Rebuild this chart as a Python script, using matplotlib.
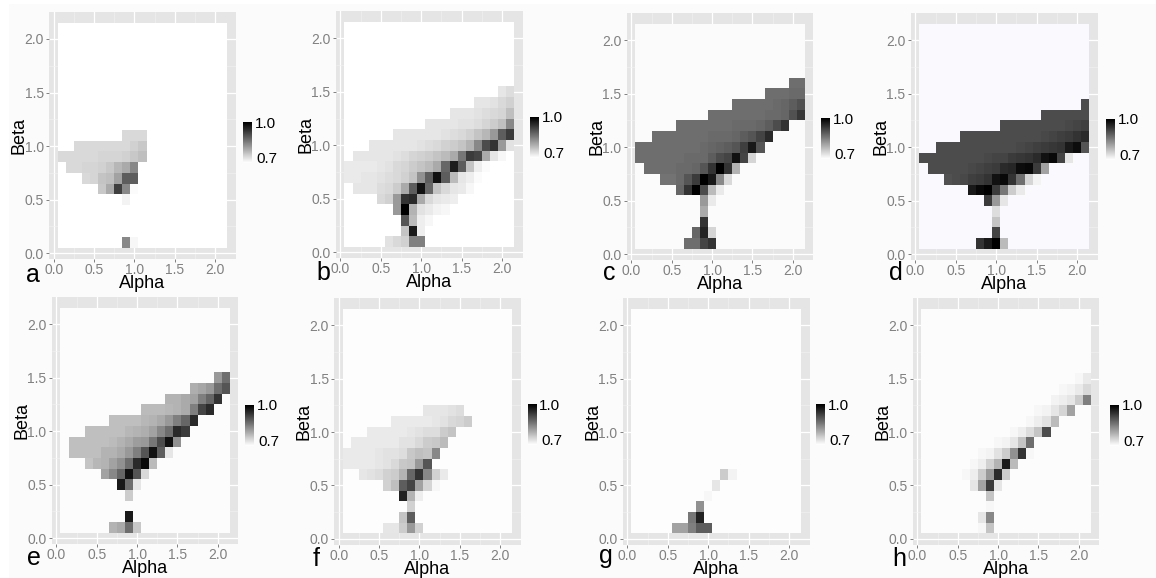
import numpy as np
import matplotlib
matplotlib.use("Agg")
import matplotlib.pyplot as plt
from matplotlib.patches import Rectangle

plt.rcParams['font.family'] = ['Liberation Sans', 'DejaVu Sans']

# each row: beta index -> (first alpha index, values), indices are tenths
panel_a = {
    11: (9, [.745, .745, .745]),
    10: (3, [.745, .745, .745, .745, .745, .745, .745, .755, .765]),
    9: (1, [.745, .745, .745, .745, .745, .75, .75, .75, .755, .765, .775]),
    8: (2, [.745, .745, .75, .75, .755, .765, .785, .80, .84]),
    7: (4, [.745, .75, .77, .775, .81, .89, .89]),
    6: (6, [.765, .80, .925, .84, .705]),
    5: (9, [.715]),
    1: (9, [.84, .71]),
}
panel_b = {
    15: (20, [.73, .74]),
    14: (17, [.73, .73, .735, .745, .755]),
    13: (14, [.73, .73, .73, .735, .74, .745, .75, .775]),
    12: (11, [.73, .73, .73, .73, .735, .735, .74, .75, .76, .775, .84]),
    11: (7, [.73, .73, .73, .73, .73, .73, .735, .74, .745, .755, .77, .785, .82, .89, .93]),
    10: (4, [.73, .73, .73, .73, .73, .73, .735, .74, .745, .755, .76, .77, .79, .84, .91, .94, .82, .735]),
    9: (2, [.73, .73, .73, .73, .73, .735, .74, .75, .755, .76, .77, .78, .80, .86, .93, .92, .80, .73, .71]),
    8: (1, [.725, .725, .725, .725, .73, .735, .745, .75, .76, .77, .78, .80, .88, .965, .89, .77, .72, .705]),
    7: (1, [.725, .725, .73, .73, .735, .74, .745, .755, .77, .83, .89, .98, .89, .78, .73, .72, .705]),
    6: (2, [.73, .73, .73, .74, .745, .76, .80, .89, .98, .88, .77, .745, .73, .725, .71]),
    5: (5, [.745, .755, .82, .94, .95, .80, .745, .73, .725, .72]),
    4: (7, [.82, 1.0, .79, .735, .725, .715, .71]),
    3: (8, [.90, .78, .72, .71]),
    2: (8, [.77, .97, .72]),
    1: (6, [.735, .745, .755, .85, .85]),
}
panel_c = {
    16: (20, [.87, .87]),
    15: (17, [.87, .87, .87, .875, .875]),
    14: (13, [.87, .87, .87, .87, .87, .875, .88, .89, .905]),
    13: (10, [.87, .87, .87, .87, .87, .87, .87, .875, .875, .88, .905, .935]),
    12: (6, [.87, .87, .87, .87, .87, .87, .87, .875, .875, .875, .88, .89, .91, .94]),
    11: (3, [.87, .87, .87, .87, .87, .87, .87, .875, .875, .875, .88, .89, .90, .92, .95]),
    10: (1, [.87, .87, .87, .87, .87, .87, .87, .87, .875, .88, .885, .89, .90, .925, .97, .90]),
    9: (1, [.87, .87, .87, .87, .87, .87, .875, .875, .875, .89, .91, .92, .98, .92, .75]),
    8: (2, [.87, .87, .87, .87, .875, .875, .88, .90, .94, 1.0, .94, .79]),
    7: (4, [.865, .865, .875, .90, .93, 1.0, .97, .84, .745]),
    6: (6, [.88, .94, 1.0, .91, .78, .725]),
    5: (9, [.82, .725]),
    4: (9, [.80]),
    3: (9, [.94]),
    2: (8, [.88, .96, .75]),
    1: (7, [.87, .87, .92, .94]),
}
panel_d = {
    14: (21, [.91]),
    13: (16, [.91, .91, .91, .91, .91, .91]),
    12: (11, [.91, .91, .91, .91, .91, .91, .91, .91, .915, .92, .925]),
    11: (6, [.91, .91, .91, .91, .91, .91, .91, .91, .91, .91, .915, .92, .925, .93, .94, .95]),
    10: (3, [.91, .91, .91, .91, .91, .91, .91, .91, .91, .91, .915, .92, .925, .93, .935, .94, .97, .985, .90]),
    9: (1, [.91, .91, .91, .91, .91, .91, .91, .91, .915, .92, .92, .93, .935, .94, .95, .98, .99, .92, .73]),
    8: (2, [.91, .91, .91, .91, .91, .915, .92, .925, .93, .95, .955, .985, .99, .93, .81]),
    7: (4, [.905, .91, .915, .925, .93, .94, .98, .99, .94, .87, .75, .715]),
    6: (7, [.97, .99, 1.0, .93, .86, .76, .725]),
    5: (9, [.93, .82, .73]),
    4: (10, [.74]),
    3: (10, [.77]),
    2: (10, [.92]),
    1: (8, [.94, .97, 1.0, .78]),
}
panel_e = {
    15: (20, [.82, .87]),
    14: (17, [.795, .805, .82, .87, .90]),
    13: (14, [.79, .79, .80, .81, .85, .88, .94]),
    12: (11, [.78, .78, .78, .785, .79, .80, .85, .92, .95]),
    11: (7, [.775, .775, .775, .775, .785, .79, .80, .82, .85, .88, .95]),
    10: (4, [.775, .775, .775, .775, .775, .785, .79, .795, .81, .84, .87, .95, .93]),
    9: (2, [.775, .775, .775, .775, .775, .78, .79, .80, .815, .82, .86, .91, .98, .83]),
    8: (2, [.775, .775, .775, .775, .79, .79, .80, .82, .85, .90, .98, .89, .73]),
    7: (4, [.77, .785, .79, .81, .83, .87, .95, .99, .78]),
    6: (6, [.81, .84, .88, .98, .90, .745]),
    5: (8, [.97, .87, .73]),
    4: (9, [.76]),
    2: (9, [.97]),
    1: (7, [.79, .80, .87, .765]),
}
panel_f = {
    12: (11, [.73, .73, .73, .735, .74]),
    11: (7, [.725, .725, .725, .725, .725, .73, .735, .745, .75, .76]),
    10: (4, [.725, .725, .725, .725, .725, .73, .735, .74, .74, .76, .77]),
    9: (2, [.725, .725, .725, .725, .725, .725, .735, .735, .745, .76, .765, .78]),
    8: (1, [.725, .725, .725, .725, .73, .735, .735, .74, .765, .775, .77, .84]),
    7: (1, [.725, .725, .725, .725, .73, .735, .745, .765, .77, .82, .90]),
    6: (3, [.73, .735, .74, .755, .76, .79, .88, .94, .84, .755, .725]),
    5: (6, [.755, .775, .89, .92, .81, .75, .71]),
    4: (8, [.96, .79, .72]),
    3: (9, [.755]),
    2: (8, [.77, .89]),
    1: (6, [.73, .73, .76, .82, .755]),
}
panel_g = {
    6: (12, [.76, .715]),
    5: (11, [.73]),
    4: (10, [.71]),
    3: (9, [.83]),
    2: (8, [.86, .96]),
    1: (6, [.81, .81, .85, .89, .89]),
}
panel_h = {
    15: (20, [.71, .725]),
    14: (18, [.71, .715, .725, .745]),
    13: (17, [.715, .72, .73, .76, .85]),
    12: (15, [.71, .715, .73, .75, .81]),
    11: (14, [.71, .72, .735, .78]),
    10: (12, [.71, .72, .74, .77, .91]),
    9: (10, [.71, .715, .73, .77, .87]),
    8: (8, [.71, .715, .735, .76, .83, .94, .71]),
    7: (7, [.71, .72, .755, .79, .97, .78]),
    6: (6, [.71, .72, .76, .82, .95, .76]),
    5: (7, [.73, .81, .93, .73]),
    4: (9, [.77]),
    3: (9, [.71]),
    2: (8, [.73, .84]),
    1: (8, [.71, .77]),
}
panels = [panel_a, panel_b, panel_c, panel_d, panel_e, panel_f, panel_g, panel_h]
letters = ['a', 'b', 'c', 'd', 'e', 'f', 'g', 'h']
ticks = [0.0, 0.5, 1.0, 1.5, 2.0]

W, H = 1156, 578
# panel boxes in pixels: left, right, top, bottom
boxes = [(49.3, 235.7, 11.7, 259), (336, 522.7, 11, 258.3), (627, 813.3, 13, 260), (911, 1097.7, 13, 260),
         (52, 238.3, 297, 544), (334.3, 520.7, 298, 544.7), (623, 809.7, 298, 544.7), (913, 1099.3, 298, 544.7)]
bars = [(243, 122), (530, 117), (821, 118), (1106, 119), (245, 405), (527.7, 404), (816, 404), (1110, 405)]
letter_pos = [(26, 282), (316.7, 280), (602.7, 280), (888.7, 280), (26.7, 565), (312.7, 566), (599.3, 563), (892, 566)]
inner = ['#ffffff', '#ffffff', '#fbfbfb', '#f9f9fe', '#fcfcfc', '#fdfdfd', '#fdfdfd', '#fcfcfc']


def to_grid(rows):
    grid = np.full((21, 21), np.nan)
    for beta, (start, vals) in rows.items():
        grid[beta - 1, start - 1:start - 1 + len(vals)] = vals
    return grid


def add_axes_px(fig, l, r, t, b):
    return fig.add_axes([l / W, 1 - b / H, (r - l) / W, (b - t) / H])


fig = plt.figure(figsize=(W / 100, H / 100), dpi=100, facecolor='white')
fig.patches.append(Rectangle((9 / W, 0), 1 - 9 / W, 1 - 4 / H, transform=fig.transFigure,
                             facecolor='#fbfbfb', edgecolor='none', figure=fig, zorder=-5))

edges = (np.arange(22) + 0.5) / 10
gradient = np.linspace(1.0, 0.7, 64).reshape(-1, 1)

for i, rows in enumerate(panels):
    l, r, t, b = boxes[i]
    ax = add_axes_px(fig, l, r, t, b)
    ax.set_facecolor('#e5e5e5')
    ax.set_xlim(-0.055, 2.255)
    ax.set_ylim(-0.055, 2.255)
    for s in ax.spines.values():
        s.set_visible(False)
    ax.set_xticks(ticks)
    ax.set_yticks(ticks)
    ax.set_xticks([0.25, 0.75, 1.25, 1.75], minor=True)
    ax.set_yticks([0.25, 0.75, 1.25, 1.75], minor=True)
    ax.set_xticklabels(['%.1f' % v for v in ticks])
    ax.set_yticklabels(['%.1f' % v for v in ticks])
    ax.tick_params(which='major', colors='#808080', labelsize=10, length=2.5, width=0.7, pad=1.5)
    ax.tick_params(axis='x', which='major', pad=0.3)
    ax.tick_params(which='minor', length=0)
    ax.grid(True, which='major', color='white', lw=0.9)
    ax.grid(True, which='minor', color='#f2f2f2', lw=0.4)
    ax.set_axisbelow(True)
    ax.add_patch(Rectangle((0.05, 0.05), 2.1, 2.1, facecolor=inner[i], edgecolor='none', zorder=1))
    ax.pcolormesh(edges, edges, np.ma.masked_invalid(to_grid(rows)), cmap='gray_r', vmin=0.7, vmax=1.0, zorder=2)

    fig.text((l + r) / 2 / W, 1 - (b + 24.5) / H, 'Alpha', fontsize=13, ha='center', va='center', color='black')
    fig.text((l - 30) / W, 1 - (t + b) / 2 / H, 'Beta', fontsize=13, rotation=90, ha='center', va='center', color='black')
    fig.text(letter_pos[i][0] / W, 1 - letter_pos[i][1] / H, letters[i], fontsize=18, ha='left', va='baseline', color='black')

    # small colour bar next to the panel
    bx, by = bars[i]
    cax = add_axes_px(fig, bx, bx + 9, by, by + 41)
    cax.imshow(gradient, cmap='gray_r', vmin=0.7, vmax=1.0, aspect='auto')
    cax.axis('off')
    fig.text((bx + 11.5) / W, 1 - (by + 1.5) / H, '1.0', fontsize=11, ha='left', va='center', color='black')
    fig.text((bx + 13.5) / W, 1 - (by + 37) / H, '0.7', fontsize=11, ha='left', va='center', color='black')

fig.savefig('out.png', dpi=100, facecolor=fig.get_facecolor())
